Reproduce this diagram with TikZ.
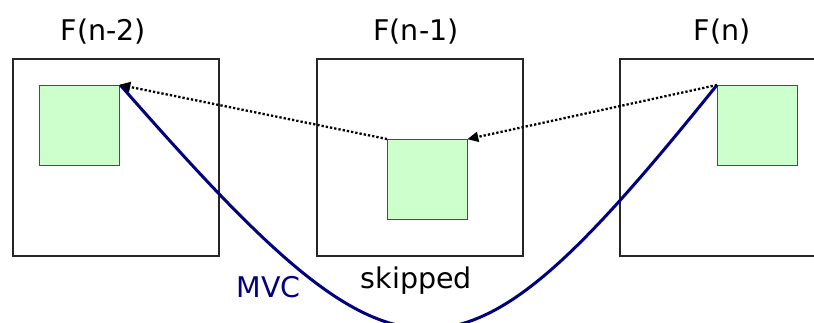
\documentclass[tikz,border=0pt]{standalone}
\usepackage{fontspec}
\setmainfont{DejaVu Sans}
\usetikzlibrary{arrows.meta}
\definecolor{greenfill}{HTML}{CCFFCC}
\definecolor{mvcblue}{HTML}{000080}
\begin{document}
\begin{tikzpicture}[x=1pt,y={(0,-1pt)},
  frame/.style={draw=black!85,line width=1.8pt,minimum width=206pt,minimum height=197pt,inner sep=0pt,anchor=north west},
  gbox/.style={draw=black!70,fill=greenfill,line width=1.3pt,minimum size=80pt,inner sep=0pt,anchor=north west},
  lbl/.style={font=\fontsize{28.5}{31}\selectfont,anchor=base,inner sep=0pt},
  dotarrow/.style={line width=2.3pt,dash pattern=on 2.3pt off 2pt,-{Triangle[length=11pt,width=10pt]},shorten >=-1pt},
  mvc/.style={draw=mvcblue,line width=3pt}]
\useasboundingbox (0,0) rectangle (814,322);
\node[frame] (f1) at (12,58) {};
\node[frame] (f2) at (316,58) {};
\node[frame] (f3) at (619,58) {};
\node[gbox] (g1) at (39,85) {};
\node[gbox] (g2) at (387,139) {};
\node[gbox] (g3) at (717,85) {};
\node[lbl] (t1) at (103.5,40) {F(n-2)};
\node[lbl] (t2) at (416,40) {F(n-1)};
\node[lbl] (t3) at (722,40) {F(n)};
\node[lbl] (sk) at (416.5,288) {skipped};
\node[lbl,text=mvcblue] (mv) at (268.5,297) {MVC};
\draw[mvc] (g1.north east) .. controls (405,410) and (455,410) .. (g3.north west);
\draw[dotarrow] (g3.north west) -- (g2.north east);
\draw[dotarrow] (g2.north west) -- (g1.north east);
\end{tikzpicture}
\end{document}
